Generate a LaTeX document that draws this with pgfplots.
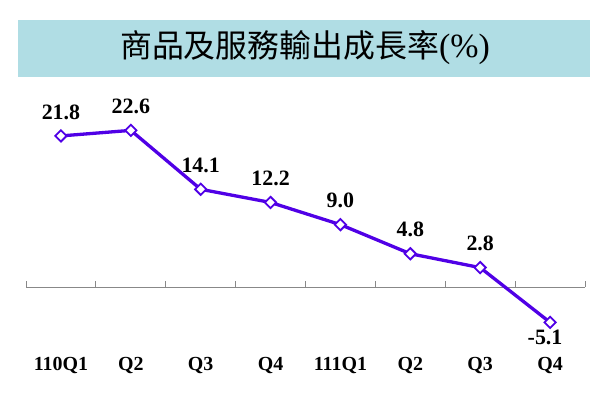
\documentclass[border=0pt]{standalone}
\usepackage{pgfplots}
\pgfplotsset{compat=1.18}
\usepackage{fontspec}
\setmainfont{Liberation Serif}
\newfontfamily\cjk{Noto Sans CJK TC}
\definecolor{linec}{RGB}{80,0,230}
\definecolor{banner}{RGB}{176,221,228}
\definecolor{axisgray}{RGB}{136,136,136}
\begin{document}
\begin{tikzpicture}[x=1bp,y=1bp]
\useasboundingbox (0,0) rectangle (604,393);
\fill[banner] (18,316) rectangle (590,373);
\node at (305,345) {\fontsize{32}{32}\selectfont\cjk 商品及服務輸出成長率\rmfamily\fontsize{34}{34}\selectfont(\%)};
\begin{axis}[
  at={(26bp,22.8bp)}, anchor=south west,
  scale only axis, width=559bp, height=263.4bp,
  xmin=-0.5, xmax=7.5, ymin=-12, ymax=26,
  clip=false,
  axis x line=middle, axis y line=none,
  x axis line style={axisgray, line width=1bp, -},
  xtick={0,...,7},
  xticklabels={110Q1,Q2,Q3,Q4,111Q1,Q2,Q3,Q4},
  major tick length=0pt,
  minor xtick={-0.5,0.5,...,7.5},
  minor tick length=6bp,
  xtick align=inside,
  minor x tick style={axisgray, line width=1bp},
  xticklabel style={font=\fontsize{20}{20}\selectfont\bfseries, yshift=-67bp, anchor=north},
]
\addplot[linec, line width=3.3bp, mark=square*, mark size=4bp,
  mark options={fill=white, draw=linec, line width=1.8bp, rotate=45}]
  coordinates {(0,21.8) (1,22.6) (2,14.1) (3,12.2) (4,9.0) (5,4.8) (6,2.8) (7,-5.1)};
\addplot[draw=none, mark=none, nodes near coords, point meta=explicit symbolic,
  nodes near coords style={font=\fontsize{22}{22}\selectfont\bfseries, anchor=south, yshift=13bp, text=black}]
  coordinates {(0,21.8)[21.8] (1,22.6)[22.6] (2,14.1)[14.1] (3,12.2)[12.2] (4,9.0)[9.0] (5,4.8)[4.8] (6,2.8)[2.8]};
\addplot[draw=none, mark=none, nodes near coords, point meta=explicit symbolic,
  nodes near coords style={font=\fontsize{22}{22}\selectfont\bfseries, anchor=north, yshift=-4bp, xshift=-5bp, text=black}]
  coordinates {(7,-5.1)[-5.1]};
\end{axis}
\end{tikzpicture}
\end{document}
